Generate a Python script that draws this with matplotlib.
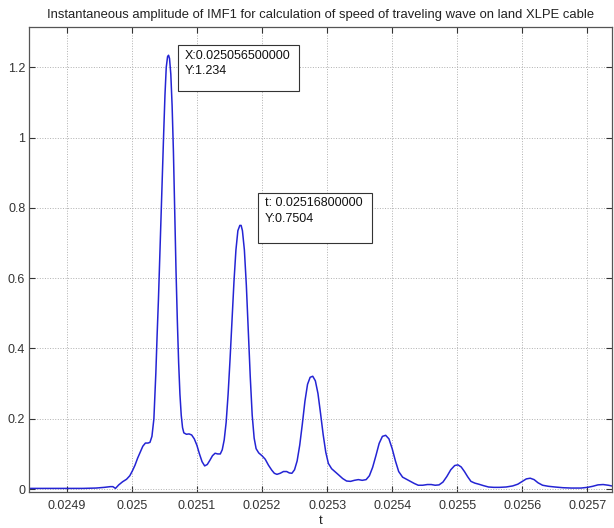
import numpy as np
import matplotlib
matplotlib.use('Agg')
import matplotlib.pyplot as plt
from matplotlib.patches import Rectangle
from matplotlib.transforms import IdentityTransform

# values
t = [0.024843, 0.024870, 0.024900, 0.024925, 0.024945, 0.024958, 0.024967, 0.024971,
     0.024975, 0.024980, 0.024986, 0.024992, 0.024997, 0.025001, 0.025005, 0.025009,
     0.025013, 0.025017, 0.025021, 0.025025, 0.025028, 0.025031, 0.025034, 0.025037,
     0.025039, 0.025041, 0.025043, 0.025045, 0.025047, 0.025049, 0.025051, 0.025053,
     0.025055, 0.0250565, 0.025058, 0.025060, 0.025062, 0.025064, 0.025066, 0.025068,
     0.025070, 0.025072, 0.025074, 0.025076, 0.025078, 0.025080, 0.025084, 0.025088,
     0.025092, 0.025096, 0.025100, 0.025104, 0.025108, 0.025112, 0.025116, 0.025120,
     0.025124, 0.025128, 0.025132, 0.025136, 0.025139, 0.025142, 0.025145, 0.025148,
     0.025151, 0.025154, 0.025157, 0.025160, 0.025163, 0.025166, 0.025168, 0.025170,
     0.025173, 0.025176, 0.025179, 0.025182, 0.025185, 0.025188, 0.025191, 0.025195,
     0.025200, 0.025205, 0.025210, 0.025215, 0.025219, 0.025223, 0.025228, 0.025233,
     0.025238, 0.025242, 0.025246, 0.025250, 0.025254, 0.025258, 0.025262, 0.025266,
     0.025270, 0.025274, 0.025278, 0.025282, 0.025286, 0.025290, 0.025294, 0.025298,
     0.025302, 0.025307, 0.025312, 0.025318, 0.025324, 0.025330, 0.025336, 0.025342,
     0.025348, 0.025354, 0.025360, 0.025365, 0.025370, 0.025375, 0.025380, 0.025385,
     0.025390, 0.025395, 0.025400, 0.025405, 0.025410, 0.025416, 0.025422, 0.025428,
     0.025434, 0.025440, 0.025447, 0.025454, 0.025460, 0.025466, 0.025472, 0.025478,
     0.025484, 0.025490, 0.025496, 0.025501, 0.025506, 0.025511, 0.025516, 0.025521,
     0.025527, 0.025533, 0.025540, 0.025548, 0.025556, 0.025565, 0.025575, 0.025585,
     0.025593, 0.025600, 0.025606, 0.025612, 0.025618, 0.025624, 0.025631, 0.025640,
     0.025650, 0.025662, 0.025675, 0.025690, 0.025700, 0.025708, 0.025716, 0.025724,
     0.025732, 0.025740]
amplitude = [0.002, 0.002, 0.002, 0.002, 0.003, 0.005, 0.007, 0.007,
             0.002, 0.012, 0.021, 0.028, 0.038, 0.052, 0.068, 0.088,
             0.105, 0.122, 0.131, 0.131, 0.133, 0.150, 0.200, 0.330,
             0.440, 0.540, 0.660, 0.780, 0.900, 1.010, 1.120, 1.200,
             1.230, 1.234, 1.225, 1.180, 1.090, 0.960, 0.790, 0.620,
             0.480, 0.360, 0.270, 0.210, 0.175, 0.160, 0.156, 0.157,
             0.154, 0.143, 0.125, 0.100, 0.078, 0.066, 0.070, 0.082,
             0.095, 0.102, 0.100, 0.100, 0.112, 0.140, 0.190, 0.270,
             0.370, 0.480, 0.590, 0.680, 0.735, 0.750, 0.750, 0.735,
             0.680, 0.580, 0.450, 0.320, 0.210, 0.145, 0.115, 0.103,
             0.095, 0.085, 0.068, 0.054, 0.045, 0.042, 0.045, 0.050,
             0.050, 0.046, 0.045, 0.055, 0.080, 0.125, 0.185, 0.250,
             0.298, 0.318, 0.321, 0.308, 0.272, 0.215, 0.155, 0.105,
             0.073, 0.058, 0.050, 0.040, 0.030, 0.023, 0.022, 0.025,
             0.027, 0.025, 0.027, 0.038, 0.062, 0.095, 0.130, 0.150,
             0.153, 0.143, 0.115, 0.080, 0.050, 0.034, 0.028, 0.022,
             0.016, 0.011, 0.011, 0.013, 0.013, 0.011, 0.012, 0.020,
             0.036, 0.055, 0.067, 0.069, 0.063, 0.050, 0.035, 0.022,
             0.017, 0.014, 0.010, 0.006, 0.005, 0.005, 0.006, 0.009,
             0.014, 0.022, 0.029, 0.031, 0.027, 0.018, 0.011, 0.008,
             0.006, 0.004, 0.003, 0.003, 0.005, 0.008, 0.012, 0.013,
             0.011, 0.008]

xticks = [0.0249, 0.025, 0.0251, 0.0252, 0.0253, 0.0254, 0.0255, 0.0256, 0.0257]
xtick_labels = ['0.0249', '0.025', '0.0251', '0.0252', '0.0253', '0.0254', '0.0255', '0.0256', '0.0257']
yticks = [0, 0.2, 0.4, 0.6, 0.8, 1.0, 1.2]
ytick_labels = ['0', '0.2', '0.4', '0.6', '0.8', '1', '1.2']

tips = [(0.0250565, 1.234, 'X:0.025056500000\nY:1.234'),
        (0.025168, 0.7504, 't: 0.02516800000\nY:0.7504')]

plt.rcParams['font.family'] = ['Liberation Sans', 'DejaVu Sans']

fig = plt.figure(figsize=(6.14, 5.28), dpi=100)
ax = fig.add_axes([0.048, 0.068, 0.9487, 0.8813])

ax.plot(t, amplitude, color='#2424d4', lw=1.1)

ax.set_xlim(0.0248429, 0.0257376)
ax.set_ylim(-0.0085, 1.315)
ax.set_xticks(xticks)
ax.set_xticklabels(xtick_labels)
ax.set_yticks(yticks)
ax.set_yticklabels(ytick_labels)
ax.tick_params(direction='in', length=4, width=0.8, top=True, right=True,
               labelsize=9, colors='#333333')
ax.tick_params(axis='x', pad=5.5)
ax.tick_params(axis='y', pad=3)
ax.grid(True, linestyle=':', color='#b0b0b0', lw=0.7)
for s in ax.spines.values():
    s.set_color('#555555')
    s.set_linewidth(0.9)

ax.set_title('Instantaneous amplitude of IMF1 for calculation of speed of traveling wave on land XLPE cable',
             fontsize=9.4, color='#222222', pad=6)
ax.set_xlabel('t', fontsize=9.5, color='#222222', labelpad=2.5)

# data tips (offsets in pixels from the marked point)
fig.canvas.draw()
box_off = [(9, -10, 121, 46), (16.6, -32.3, 114.4, 49.6)]
txt_off = [(15.7, 8.3), (23.6, -14.3)]
for (tx, ty, label), (bx, by, bw, bh), (ox, oy) in zip(tips, box_off, txt_off):
    px, py = ax.transData.transform((tx, ty))
    rect = Rectangle((px + bx, py - by - bh), bw, bh, transform=IdentityTransform(),
                     facecolor='white', edgecolor='#333333', lw=0.8, zorder=5)
    fig.patches.append(rect)
    fig.text(px + ox, py - oy, label, transform=IdentityTransform(), fontsize=9,
             va='center', ha='left', color='#111111', linespacing=1.35, zorder=6)

fig.savefig('out.png', dpi=100)
